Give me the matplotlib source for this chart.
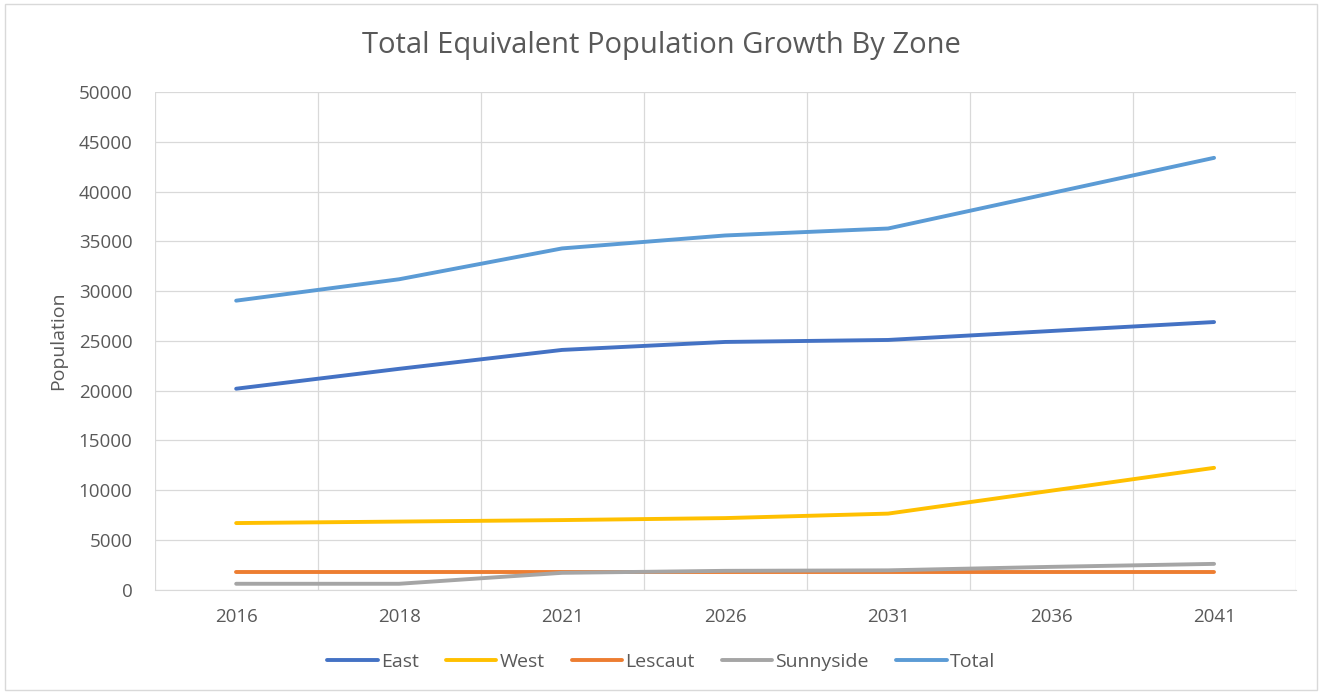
import matplotlib.pyplot as plt
from matplotlib.patches import Rectangle

years = ["2016", "2018", "2021", "2026", "2031", "2036", "2041"]
east = [20200, 22200, 24100, 24900, 25100, 26000, 26900]
west = [6700, 6850, 7000, 7200, 7650, 9950, 12250]
lescaut = [1800, 1800, 1800, 1800, 1800, 1800, 1800]
sunnyside = [600, 600, 1700, 1900, 1950, 2300, 2600]
total = [29050, 31200, 34300, 35600, 36300, 39850, 43400]

series = [
    ("East", east, "#4472C4"),
    ("West", west, "#FFC000"),
    ("Lescaut", lescaut, "#ED7D31"),
    ("Sunnyside", sunnyside, "#A5A5A5"),
    ("Total", total, "#5B9BD5"),
]

plt.rcParams['font.family'] = ['Open Sans', 'DejaVu Sans']
txt = "#595959"
grid_c = "#D9D9D9"

fig = plt.figure(figsize=(13.22, 6.93), dpi=100)
fig.patches.append(Rectangle((0.004, 0.004), 0.992, 0.99, transform=fig.transFigure,
                             fill=False, edgecolor="#D9D9D9", lw=1))
ax = fig.add_axes([0.117, 0.149, 0.863, 0.718])

x = list(range(len(years)))
for name, vals, col in series:
    ax.plot(x, vals, color=col, lw=2.8, solid_capstyle='round', label=name)

ax.set_xlim(-0.5, len(years) - 0.5)
ax.set_ylim(0, 50000)
ax.set_yticks(range(0, 50001, 5000))
ax.set_xticks(x)
ax.set_xticklabels(years)
ax.set_xticks([i - 0.5 for i in range(len(years) + 1)], minor=True)

ax.grid(axis='y', which='major', color=grid_c, lw=0.9)
ax.grid(axis='x', which='minor', color=grid_c, lw=0.9)
ax.set_axisbelow(True)
for s in ['top', 'right', 'left']:
    ax.spines[s].set_visible(False)
ax.spines['bottom'].set_color(grid_c)
ax.tick_params(axis='both', which='both', length=0, colors=txt, labelsize=13.5)
ax.tick_params(axis='y', pad=16)
ax.tick_params(axis='x', pad=13)

ax.set_ylabel("Population", color=txt, fontsize=14, labelpad=8)
fig.text(0.5, 0.935, "Total Equivalent Population Growth By Zone", ha='center', va='center',
         fontsize=21, color=txt)

fig.legend(loc='center', bbox_to_anchor=(0.5, 0.045), ncol=5, frameon=False,
           fontsize=14, handlelength=2.6, handletextpad=0.15, columnspacing=1.4,
           labelcolor=txt)

fig.savefig("out.png", dpi=100)
